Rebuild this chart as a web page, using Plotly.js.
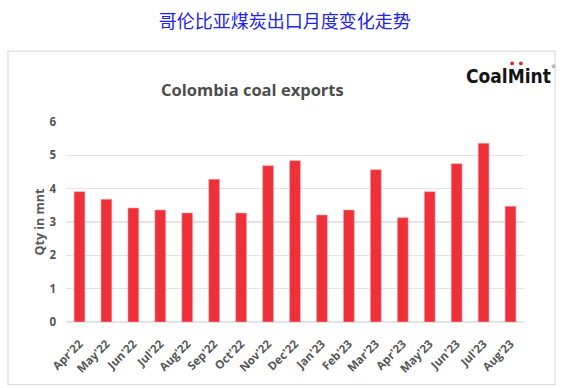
<!DOCTYPE html>
<html>
<head>
<meta charset="utf-8">
<script src="https://cdn.plot.ly/plotly-3.0.1.min.js"></script>
<style>html,body{margin:0;padding:0;background:#fff;}#chart{width:564px;height:388px;}</style>
</head>
<body>
<div id="chart"></div>
<script>
const months = ["Apr'22","May'22","Jun'22","Jul'22","Aug'22","Sep'22","Oct'22","Nov'22","Dec'22","Jan'23","Feb'23","Mar'23","Apr'23","May'23","Jun'23","Jul'23","Aug'23"];
const exportsMnt = [3.91,3.68,3.42,3.36,3.27,4.28,3.27,4.69,4.84,3.21,3.36,4.57,3.13,3.91,4.75,5.36,3.47];
const yTicks = [0,1,2,3,4,5,6];
const mainTitle = "哥伦比亚煤炭出口月度变化走势";
const chartTitle = "Colombia coal exports";
const yTitle = "Qty in mnt";
const brand = "CoalMint";

const gray = '#555555';
const tickFont = {family:'Open Sans, Lato, sans-serif', size:11.5, color:gray, weight:700};

const trace = {
  type:'bar', x: months, y: exportsMnt,
  marker:{color:'#ee3039', line:{color:'#f7a0a4', width:0.6}},
  width:0.4, hoverinfo:'x+y'
};

const layout = {
  width:564, height:388,
  margin:{l:66, r:40, t:122, b:66},
  paper_bgcolor:'#ffffff', plot_bgcolor:'#ffffff',
  showlegend:false,
  title:{text:mainTitle, x:0.505, xanchor:'center', y:1-21.5/388, yref:'container', yanchor:'middle',
         font:{family:'Noto Sans CJK SC, sans-serif', size:18, color:'#2222ee'}},
  xaxis:{type:'category', tickangle:-45, tickfont:tickFont, showgrid:false, zeroline:false,
         showline:false, ticks:'', ticklabelstandoff:12, fixedrange:true},
  yaxis:{range:[0,6], tickvals:yTicks, tickfont:tickFont, showgrid:true, gridcolor:'#e3e3e3', gridwidth:1.5,
         zeroline:true, zerolinecolor:'#e3e3e3', zerolinewidth:1.5, showline:false, ticks:'',
         ticklabelstandoff:9,
         title:{text:yTitle, font:{family:'Open Sans, Lato, sans-serif', size:12.5, color:gray, weight:700}, standoff:2}},
  shapes:[
    {type:'rect', xref:'paper', yref:'paper', x0:(8-66)/458, x1:(555-66)/458, y0:(322.3-385)/200.3, y1:(322.3-51)/200.3,
     line:{color:'#dddddd', width:1.2}, fillcolor:'rgba(0,0,0,0)', layer:'below'},
    {type:'circle', xref:'paper', yref:'paper', x0:(510.2-66)/458, x1:(514-66)/458, y0:(322.3-65.2)/200.3, y1:(322.3-61.4)/200.3,
     line:{width:0}, fillcolor:'#e8202a'},
    {type:'circle', xref:'paper', yref:'paper', x0:(519-66)/458, x1:(522.8-66)/458, y0:(322.3-65.2)/200.3, y1:(322.3-61.4)/200.3,
     line:{width:0}, fillcolor:'#e8202a'}
  ],
  annotations:[
    {text:chartTitle, xref:'paper', yref:'paper', x:(252-66)/458, y:(322.3-89)/200.3, xanchor:'center', yanchor:'middle',
     showarrow:false, font:{family:'Open Sans, Lato, sans-serif', size:16.5, color:'#4d4d4d', weight:700}},
    {text:brand, xref:'paper', yref:'paper', x:(508.5-66)/458, y:(322.3-76)/200.3, xanchor:'center', yanchor:'middle',
     showarrow:false, font:{family:'DejaVu Sans Condensed, Liberation Sans Narrow, sans-serif', size:19, color:'#151515', weight:700}},
    {text:'®', xref:'paper', yref:'paper', x:(553-66)/458, y:(322.3-66)/200.3, xanchor:'center', yanchor:'middle',
     showarrow:false, font:{family:'DejaVu Sans, sans-serif', size:5, color:'#555'}}
  ]
};

Plotly.newPlot('chart', [trace], layout, {displayModeBar:false, staticPlot:true});
</script>
</body>
</html>
